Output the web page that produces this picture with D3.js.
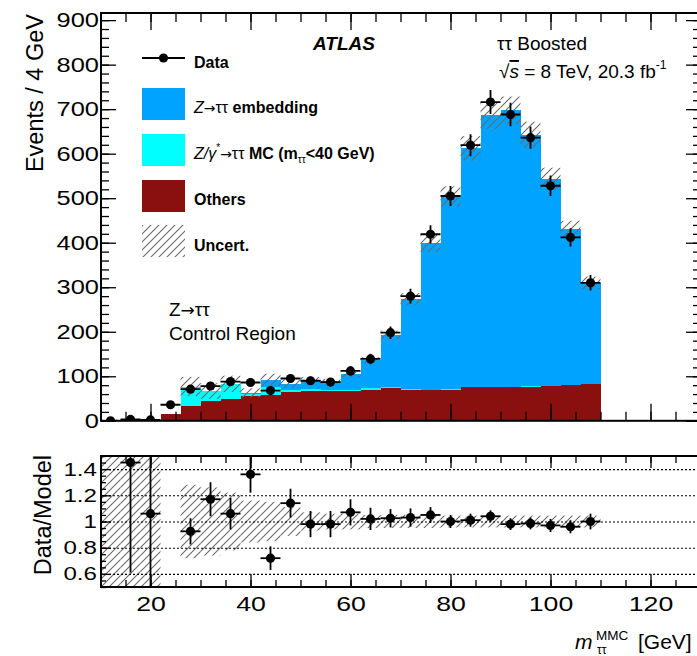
<!DOCTYPE html>
<html>
<head>
<meta charset="utf-8">
<script src="https://cdn.jsdelivr.net/npm/d3@7"></script>
<style>
body { margin: 0; background: #fff; }
svg { font-family: "Liberation Sans", Arial, sans-serif; }
.arrow { font-family: "DejaVu Sans", sans-serif; }
</style>
</head>
<body>
<script>
// Data // -------------------------------------------------------------------
// 4 GeV bins, centres in GeV
var binCentres = [12,16,20,24,28,32,36,40,44,48,52,56,60,64,68,72,76,80,84,88,92,96,100,104,108];
// stacked model components (events / bin)
var others    = [2,2,2,16,33,44,50,55,57,64,67,66,68,70,74,70,69,70,75,76,75,77,78,80,82];
var zttMC     = [0,0,0,0,44,23,33,5,20,5,5,3,2,3,1,1,1,1,1,1,1,1,1,1,1];
var embedding = [0,0,0,0,0,0,0,3,15,14,20,20,34,63,118,202,329,433,536,609,621,565,465,349,227];
// data and its errors
var data    = [0,3,2,36,71,78,88,86,68,95,90,87,112,139,198,280,419,505,619,716,688,636,528,412,310];
var dataErr = [0,1.7,1.4,6,8.4,8.8,9.4,9.3,8.2,9.7,9.5,9.3,10.6,11.8,14,16.7,20.5,22.5,24.9,26.8,26.2,25.2,23,20.3,17.6];
// relative model uncertainty (hatched band)
var uncertFrac = [0.6,0.6,0.6,null,0.28,0.26,0.22,0.16,0.15,0.11,0.07,0.06,0.06,0.05,0.05,0.05,0.05,0.045,0.045,0.045,0.045,0.045,0.045,0.045,0.045];
// data / model panel
var ratio        = [null,1.45,1.06,null,0.925,1.17,1.06,1.36,0.72,1.14,0.98,0.98,1.07,1.02,1.025,1.03,1.05,1.0,1.01,1.04,0.98,0.985,0.97,0.96,1.0];
var ratioErrDown = [null,0.84,0.7,null,0.1,0.13,0.12,0.14,0.09,0.11,0.1,0.1,0.1,0.085,0.07,0.07,0.06,0.05,0.05,0.045,0.045,0.045,0.05,0.05,0.06];
var ratioErrUp   = [null,0.7,0.7,null,0.1,0.13,0.12,0.14,0.09,0.11,0.1,0.1,0.1,0.085,0.07,0.07,0.06,0.05,0.05,0.045,0.045,0.045,0.05,0.05,0.06];
var yTicksMain  = [0,100,200,300,400,500,600,700,800,900];
var yTicksRatio = [0.6,0.8,1,1.2,1.4];
var xTicks      = [20,40,60,80,100,120];

var binWidth = 4;
var colors = {others: "#8a1010", mc: "#00ffff", emb: "#00a3ff"};

// Layout // -----------------------------------------------------------------
var W = 697, H = 656;
var left = 101, right = 701;          // right edge of frame is just off the page
var mainTop = 13, mainBottom = 420.8;
var ratTop = 456, ratBottom = 587;

var x  = d3.scaleLinear().domain([10, 130]).range([100.5, 700.5]);
var y  = d3.scaleLinear().domain([0, 916]).range([mainBottom, mainTop]);
var yr = d3.scaleLinear().domain([0.5, 1.5]).range([ratBottom, ratTop]);

var svg = d3.select("body").append("svg")
            .attr("width", W).attr("height", H);

var defs = svg.append("defs");
var hatch = defs.append("pattern")
    .attr("id", "hatch").attr("patternUnits", "userSpaceOnUse")
    .attr("width", 8).attr("height", 8);
hatch.append("path")
     .attr("d", "M-2,2 L2,-2 M0,8 L8,0 M6,10 L10,6")
     .attr("stroke", "#6a6a6a").attr("stroke-width", 1.1);

defs.append("clipPath").attr("id", "clipMain")
    .append("rect").attr("x", left).attr("y", mainTop)
    .attr("width", right - left).attr("height", mainBottom - mainTop);
defs.append("clipPath").attr("id", "clipRatio")
    .append("rect").attr("x", left).attr("y", ratTop)
    .attr("width", right - left).attr("height", ratBottom - ratTop);

// Main panel // -------------------------------------------------------------
var rows = binCentres.map(function(c, i) {
    return {c: c, others: others[i], mc: zttMC[i], emb: embedding[i], u: uncertFrac[i]};
});
var stack = d3.stack().keys(["others", "mc", "emb"])(rows);

var main = svg.append("g").attr("clip-path", "url(#clipMain)");

main.selectAll("g.layer")
    .data(stack).enter().append("g")
    .attr("class", "layer")
    .attr("fill", function(d) { return colors[d.key]; })
    .selectAll("rect")
    .data(function(d) { return d; }).enter().append("rect")
    .attr("x", function(d) { return x(d.data.c - binWidth / 2); })
    .attr("width", function(d) { return x(d.data.c + binWidth / 2) - x(d.data.c - binWidth / 2); })
    .attr("y", function(d) { return y(d[1]); })
    .attr("height", function(d) { return y(d[0]) - y(d[1]); })
    .attr("shape-rendering", "crispEdges");

// uncertainty hatch on the stack
function total(d) { return d.others + d.mc + d.emb; }
main.selectAll("rect.unc")
    .data(rows.filter(function(d) { return d.u != null; }))
    .enter().append("rect")
    .attr("class", "unc")
    .attr("fill", "url(#hatch)")
    .attr("x", function(d) { return x(d.c - binWidth / 2); })
    .attr("width", function(d) { return x(d.c + binWidth / 2) - x(d.c - binWidth / 2); })
    .attr("y", function(d) { return y(total(d) * (1 + d.u)); })
    .attr("height", function(d) { return y(total(d) * (1 - d.u)) - y(total(d) * (1 + d.u)); });

// data points
var pts = binCentres.map(function(c, i) { return {c: c, v: data[i], e: dataErr[i]}; });
var dp = main.selectAll("g.pt").data(pts).enter().append("g").attr("class", "pt");
dp.append("line")
  .attr("x1", function(d) { return x(d.c - binWidth / 2); })
  .attr("x2", function(d) { return x(d.c + binWidth / 2); })
  .attr("y1", function(d) { return y(d.v); })
  .attr("y2", function(d) { return y(d.v); })
  .attr("stroke", "#000").attr("stroke-width", 1.8);
dp.append("line")
  .attr("x1", function(d) { return x(d.c); })
  .attr("x2", function(d) { return x(d.c); })
  .attr("y1", function(d) { return y(d.v - d.e); })
  .attr("y2", function(d) { return y(d.v + d.e); })
  .attr("stroke", "#000").attr("stroke-width", 1.8);
dp.append("circle")
  .attr("cx", function(d) { return x(d.c); })
  .attr("cy", function(d) { return y(d.v); })
  .attr("r", 4.6).attr("fill", "#000");

// Ratio panel // ------------------------------------------------------------
var rat = svg.append("g").attr("clip-path", "url(#clipRatio)");

rat.selectAll("rect.band")
   .data(rows.filter(function(d) { return d.u != null; }))
   .enter().append("rect")
   .attr("class", "band")
   .attr("fill", "url(#hatch)")
   .attr("x", function(d) { return x(d.c - binWidth / 2); })
   .attr("width", function(d) { return x(d.c + binWidth / 2) - x(d.c - binWidth / 2); })
   .attr("y", function(d) { return yr(1 + d.u); })
   .attr("height", function(d) { return yr(1 - d.u) - yr(1 + d.u); });

// dotted gridlines
rat.append("g")
   .attr("transform", "translate(" + left + ",0)")
   .call(d3.axisRight(yr).tickValues(yTicksRatio).tickSize(right - left).tickFormat(""))
   .call(function(g) {
       g.select(".domain").remove();
       g.selectAll("line").attr("stroke", "#000").attr("stroke-width", 1.1)
        .attr("stroke-dasharray", "2,2");
   });

var rp = rat.selectAll("g.rpt")
    .data(binCentres.map(function(c, i) {
        return {c: c, v: ratio[i], lo: ratioErrDown[i], hi: ratioErrUp[i]};
    }).filter(function(d) { return d.v != null; }))
    .enter().append("g").attr("class", "rpt");
rp.append("line")
  .attr("x1", function(d) { return x(d.c - binWidth / 2); })
  .attr("x2", function(d) { return x(d.c + binWidth / 2); })
  .attr("y1", function(d) { return yr(d.v); })
  .attr("y2", function(d) { return yr(d.v); })
  .attr("stroke", "#000").attr("stroke-width", 1.8);
rp.append("line")
  .attr("x1", function(d) { return x(d.c); })
  .attr("x2", function(d) { return x(d.c); })
  .attr("y1", function(d) { return yr(d.v - d.lo); })
  .attr("y2", function(d) { return yr(d.v + d.hi); })
  .attr("stroke", "#000").attr("stroke-width", 1.8);
rp.append("circle")
  .attr("cx", function(d) { return x(d.c); })
  .attr("cy", function(d) { return yr(d.v); })
  .attr("r", 4.6).attr("fill", "#000");

// Axes // -------------------------------------------------------------------
function cleanAxis(g) {
    g.select(".domain").remove();
    g.attr("font-family", null).attr("font-size", null);
    g.selectAll("line").attr("stroke", "#000").attr("stroke-width", 1.3);
}
function ticksOnly(axis, size, vals) {
    return axis.tickValues(vals).tickSize(size).tickFormat("");
}
var minorX = d3.range(15, 130, 5);
var minorY = d3.range(0, 916, 20);
var minorR = d3.range(0.5, 1.51, 0.05);

// main panel: bottom, top, left, right
svg.append("g").attr("transform", "translate(0," + mainBottom + ")")
   .call(d3.axisBottom(x).tickValues(xTicks).tickSize(-17).tickFormat("")).call(cleanAxis);
svg.append("g").attr("transform", "translate(0," + mainBottom + ")")
   .call(ticksOnly(d3.axisBottom(x), -9, minorX)).call(cleanAxis);
svg.append("g").attr("transform", "translate(0," + mainTop + ")")
   .call(d3.axisTop(x).tickValues(xTicks).tickSize(-17).tickFormat("")).call(cleanAxis);
svg.append("g").attr("transform", "translate(0," + mainTop + ")")
   .call(ticksOnly(d3.axisTop(x), -9, minorX)).call(cleanAxis);

svg.append("g").attr("transform", "translate(" + left + ",0)")
   .call(d3.axisLeft(y).tickValues(yTicksMain).tickSize(-15).tickPadding(1.6))
   .call(cleanAxis)
   .call(function(g) {
       g.selectAll("text").attr("font-size", 20).attr("fill", "#000")
        .attr("transform", "scale(1.27,1)");
   });
svg.append("g").attr("transform", "translate(" + left + ",0)")
   .call(ticksOnly(d3.axisLeft(y), -8, minorY)).call(cleanAxis);
svg.append("g").attr("transform", "translate(" + right + ",0)")
   .call(d3.axisRight(y).tickValues(yTicksMain).tickSize(-15).tickFormat("")).call(cleanAxis);
svg.append("g").attr("transform", "translate(" + right + ",0)")
   .call(ticksOnly(d3.axisRight(y), -8, minorY)).call(cleanAxis);

// ratio panel
svg.append("g").attr("transform", "translate(0," + ratBottom + ")")
   .call(d3.axisBottom(x).tickValues(xTicks).tickSize(-13).tickPadding(9))
   .call(cleanAxis)
   .call(function(g) {
       g.selectAll("text").attr("font-size", 21).attr("fill", "#000")
        .attr("transform", "scale(1.27,1)");
   });
svg.append("g").attr("transform", "translate(0," + ratBottom + ")")
   .call(ticksOnly(d3.axisBottom(x), -7, minorX)).call(cleanAxis);
svg.append("g").attr("transform", "translate(0," + ratTop + ")")
   .call(d3.axisTop(x).tickValues(xTicks).tickSize(-12).tickFormat("")).call(cleanAxis);
svg.append("g").attr("transform", "translate(0," + ratTop + ")")
   .call(ticksOnly(d3.axisTop(x), -7, minorX)).call(cleanAxis);

svg.append("g").attr("transform", "translate(" + left + ",0)")
   .call(d3.axisLeft(yr).tickValues(yTicksRatio).tickSize(-10).tickPadding(3.2)
           .tickFormat(function(d) { return d === 1 ? "1" : d3.format(".1f")(d); }))
   .call(cleanAxis)
   .call(function(g) {
       g.selectAll("text").attr("font-size", 19).attr("fill", "#000")
        .attr("transform", "scale(1.27,1)");
   });
svg.append("g").attr("transform", "translate(" + left + ",0)")
   .call(ticksOnly(d3.axisLeft(yr), -5, minorR)).call(cleanAxis);

// frames
[[mainTop, mainBottom], [ratTop, ratBottom]].forEach(function(f) {
    svg.append("rect")
       .attr("x", left).attr("y", f[0])
       .attr("width", right - left).attr("height", f[1] - f[0])
       .attr("fill", "none").attr("stroke", "#000").attr("stroke-width", 2);
});

// Axis titles // ------------------------------------------------------------
svg.append("text")
   .attr("transform", "translate(43,14) rotate(-90)")
   .attr("text-anchor", "end").attr("font-size", 23.5)
   .text("Events / 4 GeV");
svg.append("text")
   .attr("transform", "translate(51,455) rotate(-90)")
   .attr("text-anchor", "end").attr("font-size", 23.5)
   .text("Data/Model");

var xt = svg.append("g");
xt.append("text").attr("x", 575).attr("y", 649).attr("font-size", 21)
  .attr("font-style", "italic").text("m");
xt.append("text").attr("x", 596).attr("y", 640).attr("font-size", 13.5).text("MMC");
xt.append("text").attr("x", 597).attr("y", 654).attr("font-size", 12).text("ττ");
xt.append("text").attr("x", 638).attr("y", 649).attr("font-size", 21).text("[GeV]");

// Labels // -----------------------------------------------------------------
svg.append("text").attr("x", 313).attr("y", 50)
   .attr("font-size", 19).attr("font-weight", "bold").attr("font-style", "italic")
   .text("ATLAS");
svg.append("text").attr("x", 497).attr("y", 50).attr("font-size", 19).text("ττ Boosted");

var lumi = svg.append("text").attr("x", 499).attr("y", 78).attr("font-size", 19);
lumi.append("tspan").text("√");
lumi.append("tspan").attr("font-style", "italic")
    .style("text-decoration", "overline").text("s");
lumi.append("tspan").text(" = 8 TeV, 20.3 fb");
lumi.append("tspan").attr("font-size", 12).attr("dy", -9).text("-1");

var zl = svg.append("text").attr("x", 169).attr("y", 316).attr("font-size", 19);
zl.append("tspan").text("Z");
zl.append("tspan").attr("class", "arrow").attr("font-size", 17).text("→");
zl.append("tspan").text("ττ");
svg.append("text").attr("x", 169).attr("y", 340).attr("font-size", 19).text("Control Region");

// Legend // -----------------------------------------------------------------
var leg = svg.append("g");
leg.append("line").attr("x1", 142).attr("x2", 185).attr("y1", 58).attr("y2", 58)
   .attr("stroke", "#000").attr("stroke-width", 1.8);
leg.append("circle").attr("cx", 163.5).attr("cy", 58).attr("r", 4.6).attr("fill", "#000");
leg.append("text").attr("x", 194).attr("y", 68).attr("font-size", 16)
   .attr("font-weight", "bold").text("Data");

var boxes = [
    {y: 88,  fill: colors.emb},
    {y: 134, fill: colors.mc},
    {y: 180, fill: colors.others},
    {y: 225, fill: "url(#hatch)"}
];
leg.selectAll("rect.box").data(boxes).enter().append("rect")
   .attr("class", "box")
   .attr("x", 142).attr("y", function(d) { return d.y; })
   .attr("width", 43).attr("height", 32)
   .attr("fill", function(d) { return d.fill; });

var t1 = leg.append("text").attr("x", 194).attr("y", 113).attr("font-size", 16);
t1.append("tspan").attr("font-style", "italic").text("Z");
t1.append("tspan").attr("class", "arrow").attr("font-size", 14).text("→");
t1.append("tspan").text("ττ");
t1.append("tspan").attr("font-weight", "bold").text(" embedding");

var t2 = leg.append("text").attr("x", 194).attr("y", 159).attr("font-size", 16);
t2.append("tspan").attr("font-style", "italic").text("Z/γ");
t2.append("tspan").attr("font-size", 10).attr("dy", -8).text("*");
t2.append("tspan").attr("class", "arrow").attr("font-size", 14).attr("dy", 8).text("→");
t2.append("tspan").text("ττ");
t2.append("tspan").attr("font-weight", "bold").text(" MC (m");
t2.append("tspan").attr("font-size", 10).attr("dy", 4).text("ττ");
t2.append("tspan").attr("font-weight", "bold").attr("dy", -4).text("<40 GeV)");

leg.append("text").attr("x", 194).attr("y", 205).attr("font-size", 16)
   .attr("font-weight", "bold").text("Others");
leg.append("text").attr("x", 194).attr("y", 251).attr("font-size", 16)
   .attr("font-weight", "bold").text("Uncert.");
</script>
</body>
</html>
